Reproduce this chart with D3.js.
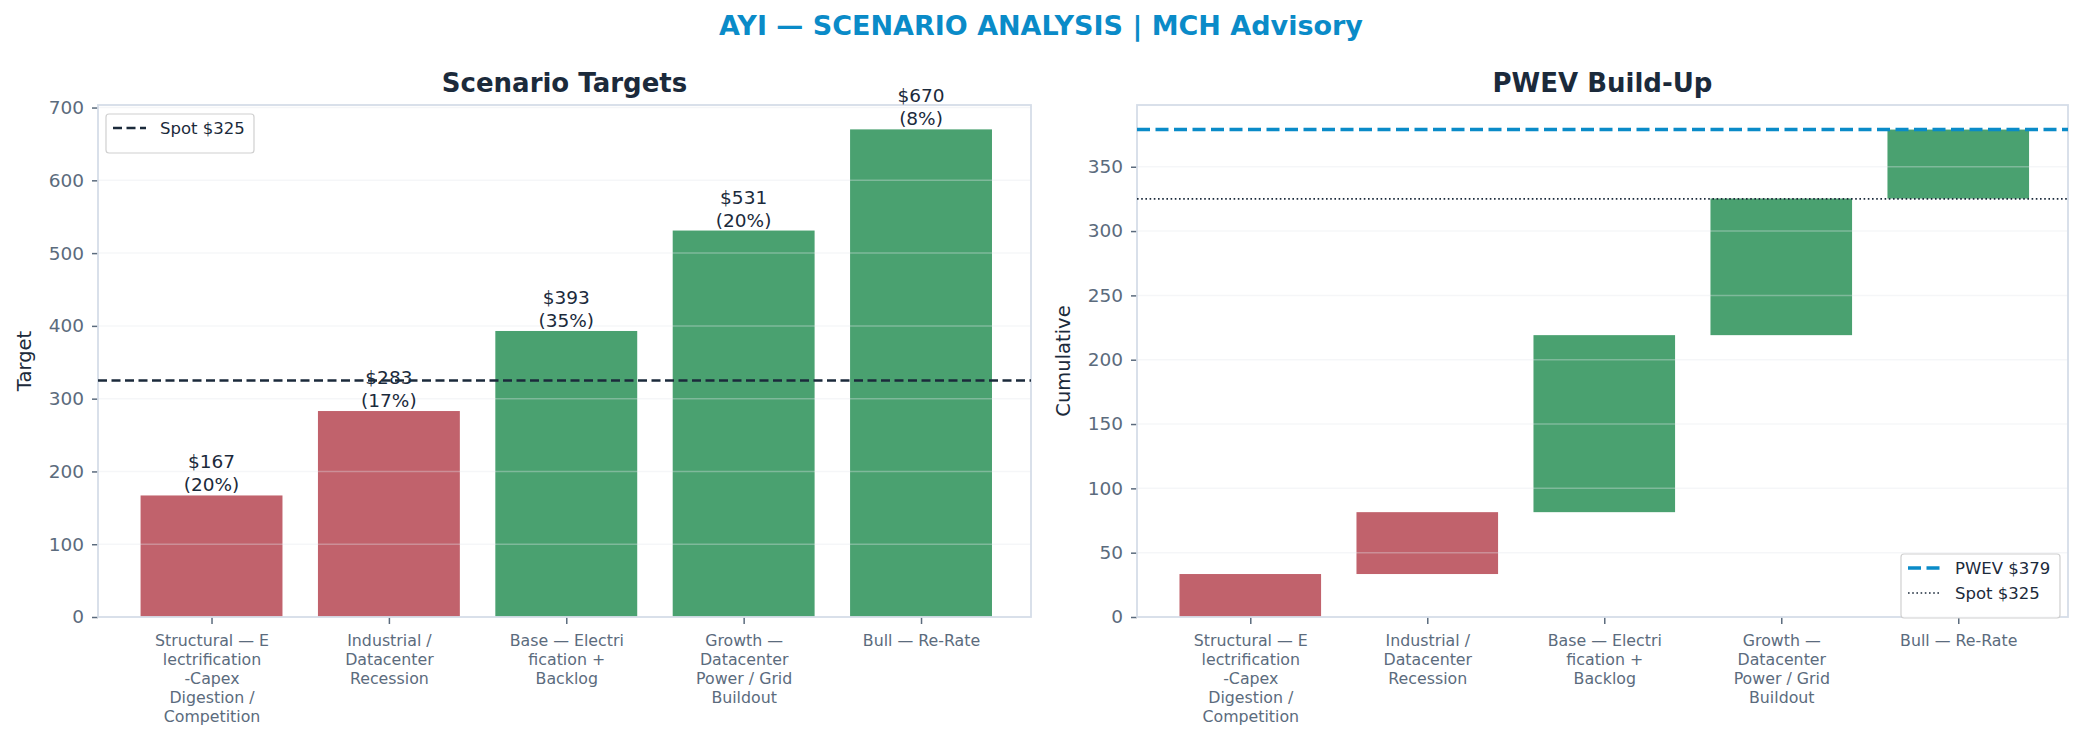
<!DOCTYPE html>
<html>
<head>
<meta charset="utf-8">
<script src="https://cdn.jsdelivr.net/npm/d3@7"></script>
<style>
  body { margin: 0; background: #fff; }
  svg { display: block; font-family: 'DejaVu Sans', sans-serif; }
</style>
</head>
<body>
<svg id="chart"></svg>
<script>
// =============================================================================
// DATA
// =============================================================================
const scenarioLabels = [
    ['Structural — E', 'lectrification', '-Capex', 'Digestion /', 'Competition'],
    ['Industrial /', 'Datacenter', 'Recession'],
    ['Base — Electri', 'fication +', 'Backlog'],
    ['Growth —', 'Datacenter', 'Power / Grid', 'Buildout'],
    ['Bull — Re-Rate'],
];
const targets       = [167, 283, 393, 531, 670];
const probabilities = [20, 17, 35, 20, 8];
const contributions = [33.4, 48.1, 137.6, 106.2, 53.6];   // PWEV build-up steps
const barColors     = ['#c1626c', '#c1626c', '#4aa170', '#4aa170', '#4aa170'];
const spotPrice = 325;
const pwev      = 379;
const leftTicks  = [0, 100, 200, 300, 400, 500, 600, 700];
const rightTicks = [0, 50, 100, 150, 200, 250, 300, 350];

// =============================================================================
// LAYOUT
// =============================================================================
const W = 2083, H = 742;
const INK = '#1b2a3b', TICK = '#5b6b7d', FRAME = '#d5dde8';
const panelTop = 105, panelBottom = 617;

const svg = d3.select('#chart').attr('width', W).attr('height', H);

svg.append('text')
    .attr('x', 1041).attr('y', 35)
    .attr('text-anchor', 'middle')
    .attr('font-size', '27px').attr('font-weight', 'bold')
    .attr('fill', '#0a8bc8')
    .text('AYI — SCENARIO ANALYSIS | MCH Advisory');

function drawPanel(opts) {
    const { left, right, yMax, ticks, title, yLabel, yLabelX } = opts;
    const x = d3.scaleLinear().domain([-0.64, 4.62]).range([left, right]);
    const y = d3.scaleLinear().domain([0, yMax]).range([panelBottom, panelTop]);
    const bw = x(0.4) - x(-0.4);
    const g = svg.append('g');

    // title
    g.append('text')
        .attr('x', (left + right) / 2).attr('y', 92)
        .attr('text-anchor', 'middle')
        .attr('font-size', '26px').attr('font-weight', 'bold')
        .attr('fill', INK).text(title);

    // y label
    g.append('text')
        .attr('transform', `translate(${yLabelX},${(panelTop + panelBottom) / 2}) rotate(-90)`)
        .attr('text-anchor', 'middle').attr('dy', '0.35em')
        .attr('font-size', '19.5px').attr('fill', INK)
        .text(yLabel);

    // y axis
    const ya = g.append('g')
        .attr('transform', `translate(${left},0)`)
        .call(d3.axisLeft(y).tickValues(ticks).tickSize(6).tickPadding(8).tickFormat(d => d));
    ya.select('.domain').remove();
    ya.selectAll('.tick line').attr('stroke', TICK).attr('stroke-width', 1.5);
    ya.selectAll('.tick text').attr('fill', TICK).attr('font-size', '18.5px')
        .attr('font-family', 'DejaVu Sans');

    // x axis with wrapped labels
    const xa = g.append('g')
        .attr('transform', `translate(0,${panelBottom})`)
        .call(d3.axisBottom(x).tickValues(d3.range(5)).tickSize(7).tickFormat(''));
    xa.select('.domain').remove();
    xa.selectAll('.tick line').attr('stroke', TICK).attr('stroke-width', 1.5);
    xa.selectAll('.tick').each(function (d) {
        const t = d3.select(this).append('text')
            .attr('text-anchor', 'middle')
            .attr('fill', TICK).attr('font-size', '15.8px')
            .attr('font-family', 'DejaVu Sans');
        scenarioLabels[d].forEach((line, i) => {
            t.append('tspan').attr('x', 0).attr('y', 29 + i * 19).text(line);
        });
    });

    return { g, x, y, bw };
}

function drawGridAndFrame(p, left, right, ticks) {
    // grid sits on top of the bars, as in the original
    p.g.append('g').selectAll('line')
        .data(ticks)
        .enter().append('line')
        .attr('x1', left).attr('x2', right)
        .attr('y1', d => p.y(d)).attr('y2', d => p.y(d))
        .attr('stroke', '#e2e6ea').attr('stroke-opacity', 0.35).attr('stroke-width', 1.5);
    p.g.append('rect')
        .attr('x', left).attr('y', panelTop)
        .attr('width', right - left).attr('height', panelBottom - panelTop)
        .attr('fill', 'none').attr('stroke', FRAME).attr('stroke-width', 1.8);
}

function legend(g, x0, y0, w, items) {
    const h = 14 + items.length * 25;
    g.append('rect')
        .attr('x', x0).attr('y', y0).attr('width', w).attr('height', h)
        .attr('rx', 3).attr('fill', '#fff').attr('fill-opacity', 0.85)
        .attr('stroke', '#d0d0d0').attr('stroke-width', 1.2);
    items.forEach((it, i) => {
        const cy = y0 + 14 + i * 25;
        g.append('line')
            .attr('x1', x0 + 7).attr('x2', x0 + 40)
            .attr('y1', cy).attr('y2', cy)
            .attr('stroke', it.color).attr('stroke-width', it.width)
            .attr('stroke-dasharray', it.dash);
        g.append('text')
            .attr('x', x0 + 54).attr('y', cy).attr('dy', '0.35em')
            .attr('font-size', '16.5px').attr('fill', INK).text(it.label);
    });
}

// =============================================================================
// LEFT — SCENARIO TARGETS
// =============================================================================
{
    const left = 98, right = 1031;
    const p = drawPanel({ left, right, yMax: 703.5, ticks: leftTicks,
        title: 'Scenario Targets', yLabel: 'Target', yLabelX: 24 });

    p.g.selectAll('.bar')
        .data(targets)
        .enter().append('rect')
        .attr('class', 'bar')
        .attr('x', (d, i) => p.x(i) - p.bw / 2)
        .attr('width', p.bw)
        .attr('y', d => p.y(d))
        .attr('height', d => p.y(0) - p.y(d))
        .attr('fill', (d, i) => barColors[i]);

    drawGridAndFrame(p, left, right, leftTicks);

    p.g.append('line')
        .attr('x1', left).attr('x2', right)
        .attr('y1', p.y(spotPrice)).attr('y2', p.y(spotPrice))
        .attr('stroke', INK).attr('stroke-width', 2.6)
        .attr('stroke-dasharray', '9,4.5');

    // value labels
    targets.forEach((d, i) => {
        const t = p.g.append('text')
            .attr('text-anchor', 'middle')
            .attr('font-size', '18.5px').attr('fill', INK);
        t.append('tspan').attr('x', p.x(i)).attr('y', p.y(d) - 27).text(`$${d}`);
        t.append('tspan').attr('x', p.x(i)).attr('y', p.y(d) - 4).text(`(${probabilities[i]}%)`);
    });

    legend(p.g, 106, 114, 148, [
        { label: 'Spot $325', color: INK, width: 2.6, dash: '9,4.5' },
    ]);
}

// =============================================================================
// RIGHT — PWEV BUILD-UP (waterfall)
// =============================================================================
{
    const left = 1137, right = 2068;
    const p = drawPanel({ left, right, yMax: 398, ticks: rightTicks,
        title: 'PWEV Build-Up', yLabel: 'Cumulative', yLabelX: 1063 });

    const ends = d3.cumsum(contributions);
    const steps = contributions.map((c, i) => ({ start: ends[i] - c, end: ends[i] }));

    p.g.selectAll('.step')
        .data(steps)
        .enter().append('rect')
        .attr('class', 'step')
        .attr('x', (d, i) => p.x(i) - p.bw / 2)
        .attr('width', p.bw)
        .attr('y', d => p.y(d.end))
        .attr('height', d => p.y(d.start) - p.y(d.end))
        .attr('fill', (d, i) => barColors[i]);

    drawGridAndFrame(p, left, right, rightTicks);

    p.g.append('line')
        .attr('x1', left).attr('x2', right)
        .attr('y1', p.y(pwev)).attr('y2', p.y(pwev))
        .attr('stroke', '#0a8bc8').attr('stroke-width', 3.6)
        .attr('stroke-dasharray', '13,5.5');
    p.g.append('line')
        .attr('x1', left).attr('x2', right)
        .attr('y1', p.y(spotPrice)).attr('y2', p.y(spotPrice))
        .attr('stroke', INK).attr('stroke-width', 1.6)
        .attr('stroke-dasharray', '1.6,2.6');

    legend(p.g, 1901, 554, 159, [
        { label: 'PWEV $379', color: '#0a8bc8', width: 3.6, dash: '13,5.5' },
        { label: 'Spot $325', color: INK, width: 1.6, dash: '1.6,2.6' },
    ]);
}
</script>
</body>
</html>
